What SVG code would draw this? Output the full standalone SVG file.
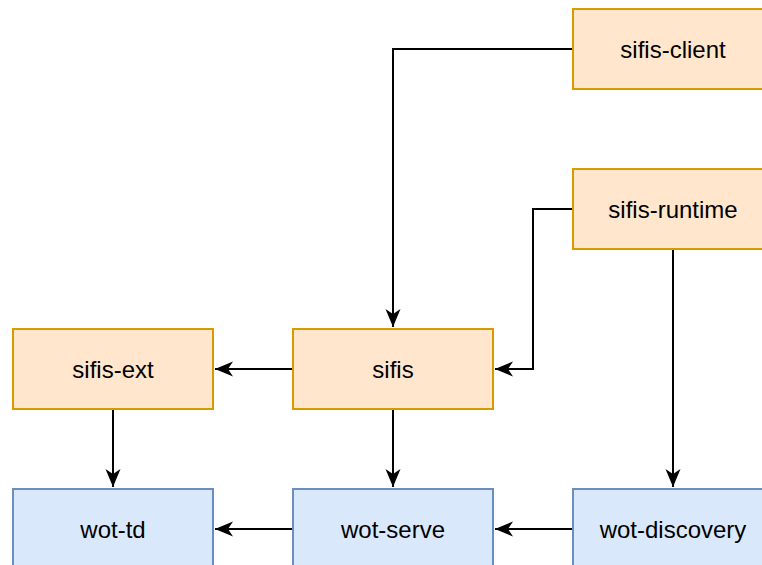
<svg xmlns="http://www.w3.org/2000/svg" width="762" height="565" viewBox="0 0 762 565">
<style>
.o{fill:#ffe6cc;stroke:#d79b00;stroke-width:2}
.b{fill:#dae8fc;stroke:#6c8ebf;stroke-width:2}
.t{font-family:"Liberation Sans",Arial,sans-serif;font-size:24px;fill:#000;text-anchor:middle;dominant-baseline:central}
.c{fill:none;stroke:#000;stroke-width:2;marker-end:url(#a)}
</style>
<defs>
<marker id="a" markerUnits="userSpaceOnUse" markerWidth="20" markerHeight="16" viewBox="0 0 20 16" refX="18" refY="8" orient="auto">
<path d="M0,0.5 L18,8 L0,15.5 L5,8 Z" fill="#000"/>
</marker>
</defs>
<g id="connectors">
<path class="c" d="M573,49 H393 V327"/>
<path class="c" d="M573,209 H533 V369 H495"/>
<path class="c" d="M673,249 V487"/>
<path class="c" d="M293,369 H215"/>
<path class="c" d="M113,409 V487"/>
<path class="c" d="M393,409 V487"/>
<path class="c" d="M293,529 H215"/>
<path class="c" d="M573,529 H495"/>
</g>
<g id="sifis-client"><rect class="o" x="573" y="9" width="200" height="80"/><text class="t" x="673" y="49">sifis-client</text></g>
<g id="sifis-runtime"><rect class="o" x="573" y="169" width="200" height="80"/><text class="t" x="673" y="209">sifis-runtime</text></g>
<g id="sifis-ext"><rect class="o" x="13" y="329" width="200" height="80"/><text class="t" x="113" y="369">sifis-ext</text></g>
<g id="sifis"><rect class="o" x="293" y="329" width="200" height="80"/><text class="t" x="393" y="369">sifis</text></g>
<g id="wot-td"><rect class="b" x="13" y="489" width="200" height="80"/><text class="t" x="113" y="529">wot-td</text></g>
<g id="wot-serve"><rect class="b" x="293" y="489" width="200" height="80"/><text class="t" x="393" y="529">wot-serve</text></g>
<g id="wot-discovery"><rect class="b" x="573" y="489" width="200" height="80"/><text class="t" x="673" y="529">wot-discovery</text></g>
</svg>
